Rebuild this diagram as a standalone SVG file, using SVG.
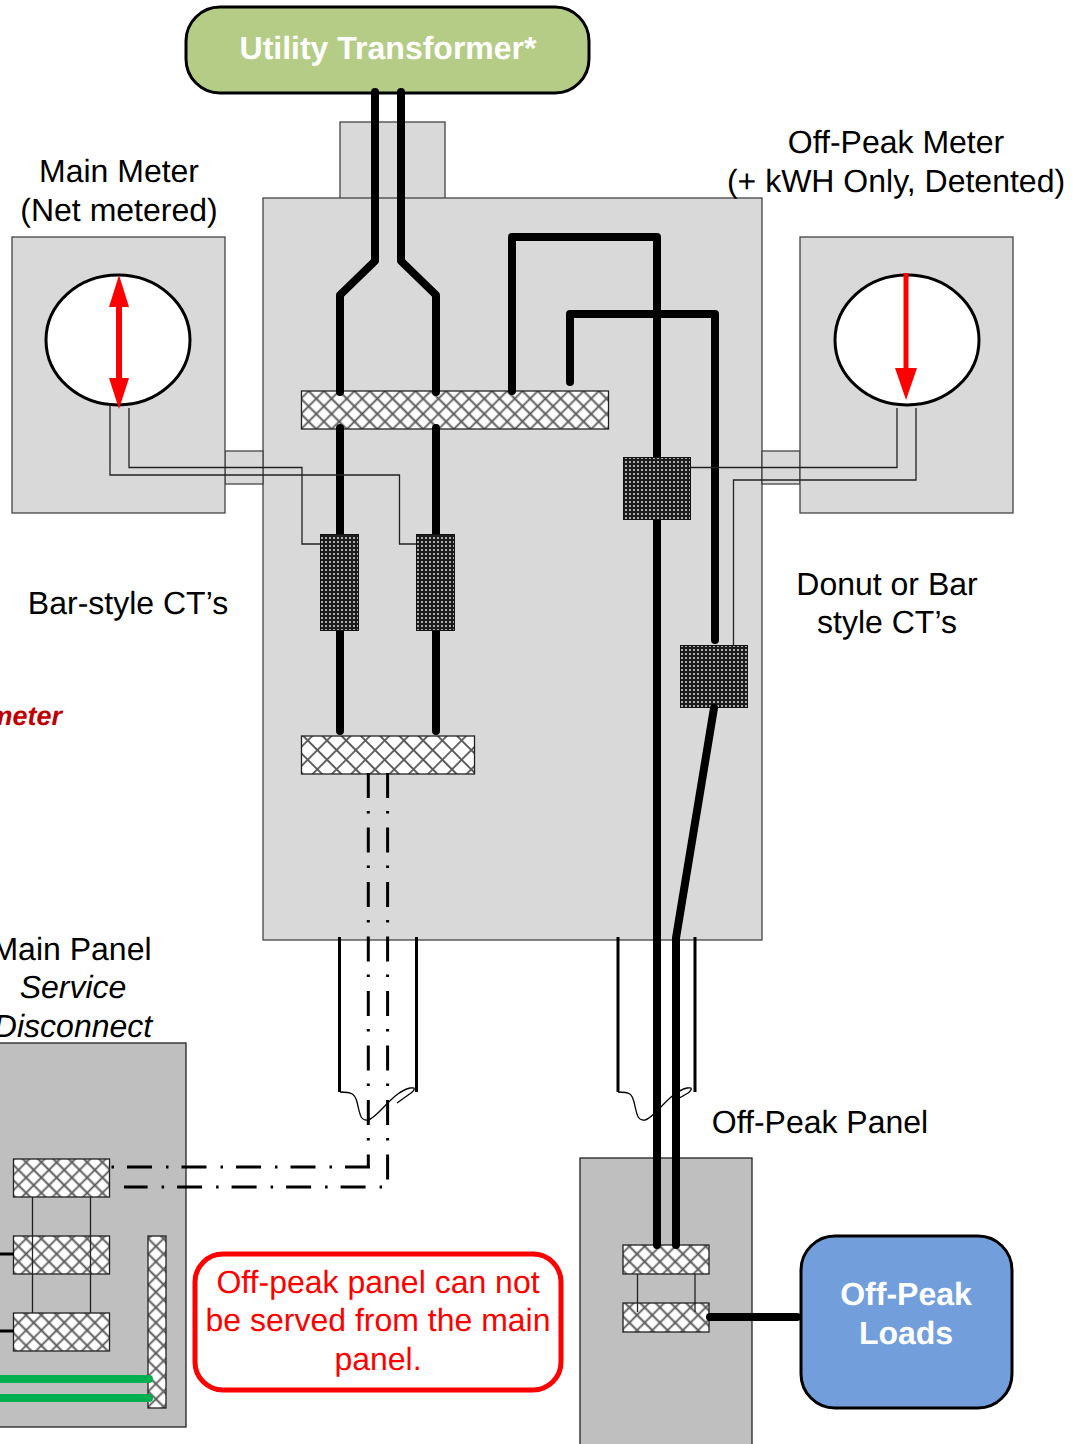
<svg xmlns="http://www.w3.org/2000/svg" width="1084" height="1444" viewBox="0 0 1084 1444">
<style>
text{font-family:"Liberation Sans",Arial,sans-serif;font-size:32px;fill:#000;text-anchor:middle;text-rendering:geometricPrecision}
.w{fill:#fff;font-weight:bold}
.r{fill:#f00}
.box{fill:#d9d9d9;stroke:#444;stroke-width:1.3}
.pan{fill:#bfbfbf;stroke:#222;stroke-width:1.3}
.hatch{fill:url(#hx);stroke:#222;stroke-width:1.3}
.hatch2{fill:url(#hx2);stroke:#222;stroke-width:1.3}
.dense{fill:url(#dn);stroke:#111;stroke-width:1}
.bus{fill:none;stroke:#000;stroke-width:8;stroke-linecap:round;stroke-linejoin:round}
.thin{fill:none;stroke:#222;stroke-width:1.3}
.cond{fill:none;stroke:#000;stroke-width:3}
.dd{fill:none;stroke:#000;stroke-width:3;stroke-dasharray:25 13 2.5 14}
.dial{fill:#fff;stroke:#000;stroke-width:3}
</style>
<defs>
<pattern id="hx" width="10.8" height="10.8" patternUnits="userSpaceOnUse" patternTransform="translate(301 391) rotate(45)">
<rect width="10.8" height="10.8" fill="#fff"/>
<path d="M0 5.400H10.8M5.400 0V10.8" stroke="#5a5a5a" stroke-width="1.800" fill="none"/>
</pattern>
<pattern id="hx2" width="13.6" height="13.6" patternUnits="userSpaceOnUse" patternTransform="rotate(45)">
<rect width="13.6" height="13.6" fill="#fff"/>
<path d="M0 6.800H13.6M6.800 0V13.6" stroke="#5a5a5a" stroke-width="1.800" fill="none"/>
</pattern>
<pattern id="dn" width="4" height="4" patternUnits="userSpaceOnUse">
<rect width="4" height="4" fill="#1c1c1c"/>
<rect x="1" y="1" width="2" height="2" fill="#ababab"/>
</pattern>
</defs>

<g id="main-enclosure">
<rect class="box" x="340" y="122" width="105" height="77"/>
<rect class="box" x="263" y="198" width="499" height="742"/>
</g>
<g id="main-meter">
<rect class="box" x="225" y="451" width="38" height="33"/>
<rect class="box" x="12" y="237" width="213" height="276"/>
<ellipse class="dial" cx="118" cy="340" rx="72" ry="65"/>
</g>
<g id="offpeak-meter">
<rect class="box" x="762" y="451" width="38" height="33"/>
<rect class="box" x="800" y="237" width="213" height="276"/>
<ellipse class="dial" cx="907" cy="340" rx="72" ry="65"/>
</g>
<g id="main-panel">
<rect class="pan" x="-5" y="1043" width="191" height="384"/>
</g>
<g id="offpeak-panel">
<rect class="pan" x="580" y="1158" width="172" height="300"/>
</g>
<g id="utility-transformer">
<rect x="186" y="7" width="403" height="86" rx="34" fill="#b5cc87" stroke="#000" stroke-width="3"/>
<text class="w" x="388" y="59">Utility Transformer*</text>
</g>
<g id="offpeak-loads">
<rect x="801" y="1236" width="211" height="172" rx="34" fill="#729fdb" stroke="#000" stroke-width="3"/>
<text class="w" x="906" y="1305">Off-Peak</text>
<text class="w" x="906" y="1344">Loads</text>
</g>

<g id="bus-bars">
<rect class="hatch" x="301.500" y="391" width="307" height="38"/>
<rect class="hatch2" x="301.500" y="736" width="173" height="38"/>
<rect class="hatch" x="13.500" y="1159" width="96" height="38"/>
<rect class="hatch" x="13.500" y="1236" width="96" height="38"/>
<rect class="hatch" x="13.500" y="1313" width="96" height="38"/>
<rect class="hatch" x="148" y="1236" width="18" height="172"/>
<rect class="hatch" x="623" y="1245" width="86" height="29"/>
<rect class="hatch" x="623" y="1303" width="86" height="29"/>
</g>

<g id="connectors">
<path class="cond" d="M339.500 937V1092M416.500 937V1092M618 937V1092M695 937V1092"/>
<path d="M340 1092C352 1092 355 1094 357 1102C360 1114 360 1121 368 1120C378 1118 392 1092 410 1088C416 1087 415 1090 411 1093L397 1103" fill="none" stroke="#000" stroke-width="1.300"/>
<path d="M618 1092C630 1092 632 1094 634 1102C637 1114 637 1121 645 1120C655 1118 669 1092 687 1088C693 1087 692 1090 688 1093L676 1100" fill="none" stroke="#000" stroke-width="1.300"/>
<path class="bus" d="M375 92V261L340 295V392M401 92V261L436 295V392"/>
<path class="bus" d="M340 428V731M436 428V731"/>
<path class="bus" d="M512 391V237H657V1245"/>
<path class="bus" d="M570 382V314H715V640"/>
<path class="thin" d="M110 405V475H399.500V544H417M129 408V467.500H302V544H321"/>
<path class="thin" d="M690 467.500H897V408M733.500 646V480H916V408"/>
<path class="dd" d="M368.300 773V1167"/>
<path class="dd" d="M370 1167H111"/>
<path class="dd" d="M387.600 773V1187H124"/>
<path class="thin" d="M32.500 1197V1313M90.500 1197V1313"/>
<path class="thin" d="M637.500 1274V1312M695 1274V1312"/>
<path d="M0 1254H14M0 1331H14" stroke="#000" stroke-width="3" fill="none"/>
<path d="M0 1379H149M0 1398H149" stroke="#00b050" stroke-width="8" stroke-linecap="round" fill="none"/>
</g>
<g id="ct-sensors">
<rect class="dense" x="320.500" y="534.500" width="38" height="96"/>
<rect class="dense" x="416.500" y="534.500" width="38" height="96"/>
<rect class="dense" x="623.500" y="457.500" width="67" height="62"/>
<rect class="dense" x="680.500" y="645.500" width="67" height="62"/>
</g>
<g id="connectors-top">
<path class="bus" d="M714 708L676 938V1245"/>
<path class="bus" d="M710 1317H797"/>
<path d="M119 300V385" stroke="#f00" stroke-width="6" fill="none"/>
<path d="M109 307L119 275L129 307ZM109 378L119 409L129 378Z" fill="#f00"/>
<path d="M906 273V372" stroke="#f00" stroke-width="5" fill="none"/>
<path d="M895 368H917L906 400Z" fill="#f00"/>
</g>

<g id="warning-note">
<rect x="195" y="1254" width="366" height="136" rx="28" fill="#fff" stroke="#f00" stroke-width="5"/>
<text class="r" x="378" y="1293">Off-peak panel can not</text>
<text class="r" x="378" y="1331">be served from the main</text>
<text class="r" x="378" y="1370">panel.</text>
</g>
<g id="labels">
<text x="119" y="182">Main Meter</text>
<text x="119" y="221">(Net metered)</text>
<text x="896" y="153">Off-Peak Meter</text>
<text x="896" y="192">(+ kWH Only, Detented)</text>
<text x="128" y="614">Bar-style CT’s</text>
<text x="887" y="595">Donut or Bar</text>
<text x="887" y="633">style CT’s</text>
<text x="62" y="725" style="text-anchor:end;fill:#c00000;font-weight:bold;font-style:italic;font-size:27px">meter</text>
<text x="71.500" y="960">Main Panel</text>
<text x="73" y="998" font-style="italic">Service</text>
<text x="73" y="1037" font-style="italic">Disconnect</text>
<text x="820" y="1133">Off-Peak Panel</text>
</g>
</svg>
